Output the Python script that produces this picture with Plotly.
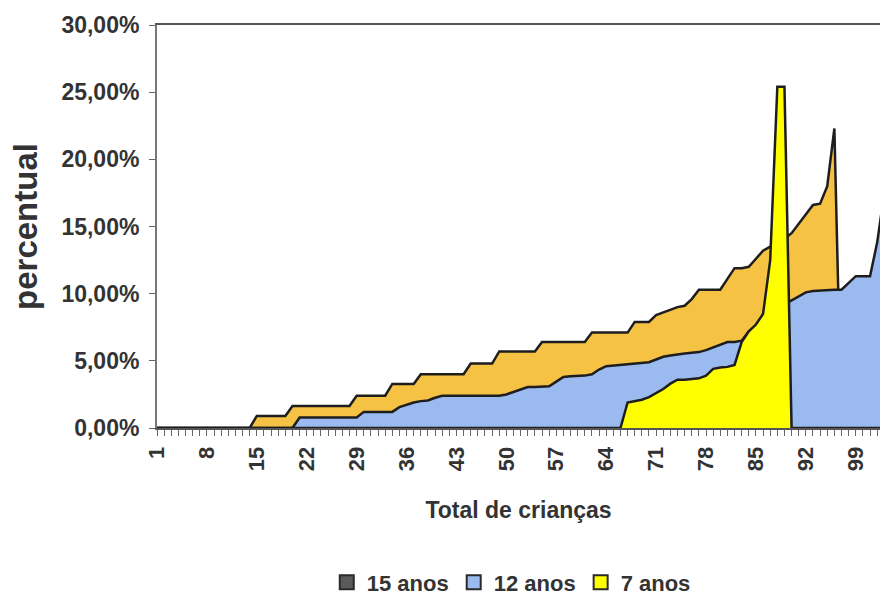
import plotly.graph_objects as go

# Categories: total number of children (1..103)
categories = list(range(1, 104))
tick_labels = [str(c) if (c - 1) % 7 == 0 else "" for c in categories]

# Percent values per category for each age group
anos_15 = (
    [0.0] * 14
    + [0.9] * 5
    + [1.64] * 9
    + [2.4] * 5
    + [3.28] * 4
    + [4.0] * 7
    + [4.8] * 4
    + [5.7] * 6
    + [6.4] * 7
    + [7.1] * 6
    + [7.9, 7.9, 7.9, 8.4, 8.6, 8.8, 9.0, 9.1, 9.6, 10.3,
       10.3, 10.3, 10.3, 11.1, 11.9, 11.9, 12.0, 12.6, 13.2, 13.5,
       13.8, 14.1, 14.5, 15.2, 15.9, 16.6, 16.7, 18.0, 22.3]
    + [0.0] * 7
)

anos_12 = (
    [0.0] * 20
    + [0.78] * 9
    + [1.2] * 5
    + [1.55, 1.75, 1.9, 2.0, 2.05, 2.25]
    + [2.4] * 9
    + [2.5, 2.7, 2.9, 3.05, 3.05, 3.05, 3.1, 3.45, 3.8, 3.85,
       3.85, 3.9, 4.0, 4.35, 4.6, 4.65, 4.7, 4.75, 4.8, 4.8,
       4.9, 5.1, 5.3, 5.4, 5.5, 5.55, 5.6, 5.65, 5.8, 6.0,
       6.2, 6.4, 6.4, 6.5, 7.2, 7.6, 8.0, 8.5, 8.9, 9.2,
       9.5, 9.8, 10.1, 10.2, 10.25, 10.3, 10.3, 10.3, 10.8, 11.3,
       11.3, 11.3, 13.8, 17.5]
)

anos_7 = (
    [0.0] * 66
    + [1.9, 2.0, 2.1, 2.3, 2.6, 2.9, 3.3, 3.6, 3.6, 3.65,
       3.7, 3.9, 4.4, 4.5, 4.55, 4.7, 6.4, 7.2, 7.7, 8.5,
       12.5, 25.4, 25.4, 0.0]
    + [0.0] * 13
)

series_names = ["15 anos", "12 anos", "7 anos"]
series_values = [anos_15, anos_12, anos_7]
area_colors = ["#F5C244", "#9BBAEF", "#FFFF00"]
legend_colors = ["#5a5a5a", "#9BBAEF", "#FFFF00"]

for vals in series_values:
    assert len(vals) == len(categories)

fig = go.Figure()

# Overlapping (non-stacked) areas, back to front
for name, vals, color in zip(series_names, series_values, area_colors):
    fig.add_trace(go.Scatter(
        x=categories, y=vals, name=name, mode="lines",
        fill="tozeroy", fillcolor=color,
        line=dict(color="#1e1e1e", width=2.5),
        showlegend=False, hoverinfo="skip",
    ))

# Square legend keys
for name, color in zip(series_names, legend_colors):
    fig.add_trace(go.Scatter(
        x=[None], y=[None], name=name, mode="markers",
        marker=dict(symbol="square", size=14, color=color,
                    line=dict(color="#2a2a2a", width=2)),
    ))

fig.update_layout(
    width=880, height=597,
    margin=dict(l=157, r=0, t=25, b=169, autoexpand=False),
    paper_bgcolor="white", plot_bgcolor="white",
    separators=",.",
    font=dict(family="Liberation Sans, Arial, sans-serif", color="#333333",
              size=23, weight="bold"),
    xaxis=dict(
        range=[1, 102.4], automargin=False,
        tickmode="array", tickvals=categories, ticktext=tick_labels,
        tickangle=-90, ticks="outside", ticklen=6, tickcolor="#666666",
        tickwidth=1, ticklabelstandoff=2,
        tickfont=dict(size=22, weight="bold"),
        showgrid=False, zeroline=False,
        showline=True, linecolor="#555555", linewidth=2, mirror=True,
        title=dict(text="Total de crianças", standoff=32,
                   font=dict(size=23, weight="bold")),
    ),
    yaxis=dict(
        range=[0, 30], automargin=False,
        tickmode="linear", tick0=0, dtick=5,
        tickformat=".2f", ticksuffix="%",
        ticks="outside", ticklen=6, tickcolor="#666666",
        ticklabelstandoff=5,
        tickfont=dict(size=23, weight="bold"),
        showgrid=False, zeroline=False,
        showline=True, linecolor="#777777", linewidth=2,
        title=dict(text="percentual", standoff=14,
                   font=dict(size=33, weight="bold")),
    ),
    legend=dict(
        orientation="h", x=0.49, xanchor="center",
        y=-0.383, yanchor="middle",
        font=dict(size=22, weight="bold"),
        itemwidth=30, tracegroupgap=0,
    ),
)

fig.write_html("out.html")
